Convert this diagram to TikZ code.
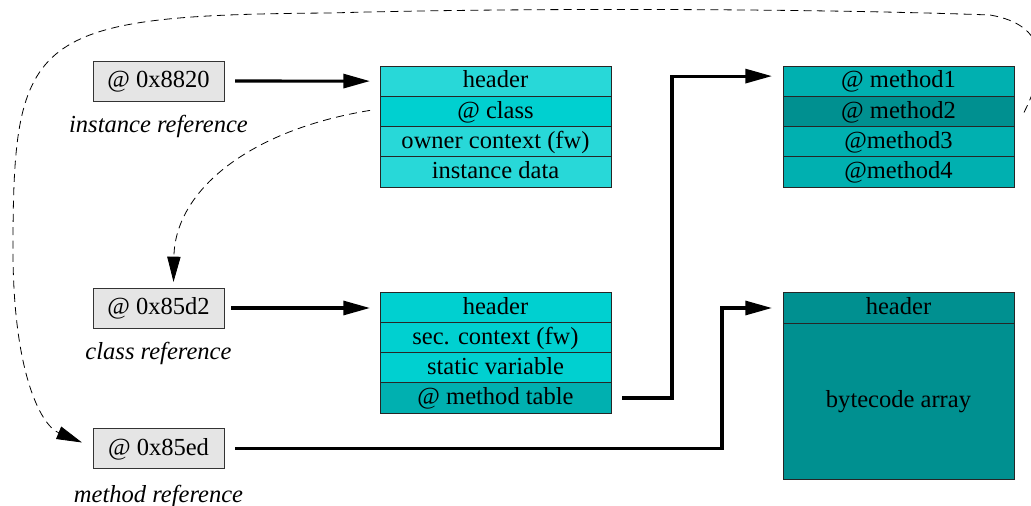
\documentclass[tikz,border=0pt]{standalone}
\usepackage{fontspec}
\setmainfont{Liberation Serif}
\newfontfamily\tnr{Liberation Serif}
\usetikzlibrary{arrows.meta,calc}
\definecolor{ltc}{RGB}{40,216,216}
\definecolor{cytwo}{RGB}{0,208,208}
\definecolor{cythree}{RGB}{0,176,176}
\definecolor{cyfour}{RGB}{0,144,144}
\definecolor{refgray}{RGB}{229,229,229}
\begin{document}
\begin{tikzpicture}[x=0.75pt,y=-0.75pt,
  font=\tnr\fontsize{18.4}{22}\selectfont,
  row/.style={draw=black!85, line width=0.7pt, minimum width=173.25pt, minimum height=22.69pt,
    inner sep=0pt, outer sep=0pt, text height=14pt, text depth=4pt},
  refbox/.style={draw=black!80, line width=0.7pt, fill=refgray, minimum width=98.25pt,
    minimum height=30pt, inner sep=0pt, outer sep=0pt, text height=14pt, text depth=4pt},
  lbl/.style={font=\tnr\fontsize{18.4}{22}\selectfont\itshape, inner sep=0pt},
  arr/.style={line width=2.3pt, -{Triangle[length=20pt,width=10.5pt]}},
  dsh/.style={line width=0.6pt, dash pattern=on 6pt off 4pt, -{Triangle[length=19pt,width=10pt]}}
]
\clip (0,0) rectangle (1031,506);
\fill[white] (0,0) rectangle (1031,506);

% reference boxes
\node[refbox] (r1) at (158.5,81) {@ 0x8820};
\node[lbl] (l1) at (158.5,126) {instance reference};
\node[refbox] (r2) at (158.5,308) {@ 0x85d2};
\node[lbl] (l2) at (158.5,353) {class reference};
\node[refbox] (r3) at (158.5,448.5) {@ 0x85ed};
\node[lbl] (l3) at (158.5,496) {method reference};

% instance object
\node[row, fill=ltc]   (i1) at (495.5,81.1)  {header};
\node[row, fill=cytwo] (i2) at (495.5,111.4) {@ class};
\node[row, fill=ltc]   (i3) at (495.5,141.6) {owner context (fw)};
\node[row, fill=ltc]   (i4) at (495.5,171.9) {instance data};

% class object
\node[row, fill=cytwo]   (c1) at (495.5,308) {header};
\node[row, fill=cytwo]   (c2) at (495.5,338) {sec. context (fw)};
\node[row, fill=cytwo]   (c3) at (495.5,368) {static variable};
\node[row, fill=cythree] (c4) at (495.5,398) {@ method table};

% method table
\node[row, fill=cythree] (m1) at (898.5,81.1)  {@ method1};
\node[row, fill=cyfour]  (m2) at (898.5,111.4) {@ method2};
\node[row, fill=cythree] (m3) at (898.5,141.6) {@method3};
\node[row, fill=cythree] (m4) at (898.5,171.9) {@method4};

% bytecode object
\node[row, fill=cyfour] (bh) at (898.5,308) {header};
\node[row, fill=cyfour, minimum height=117pt] (bb) at (898.5,401) {bytecode array};

% solid connectors
\draw[arr] ($(r1.east)+(11,0)$) -- ($(i1.west)+(-10,0)$);
\draw[arr] ($(r2.east)+(7,0)$) -- ($(c1.west)+(-10,0)$);
\draw[arr] ($(c4.east)+(11,0)$) -- ++(50,0) |- ($(m1.west)+(-11,-5)$);
\draw[arr] ($(r3.east)+(11,0)$) -- ++(487,0) |- ($(bh.west)+(-11,0)$);

% dashed connectors
\draw[dsh] ($(i2.west)+(-10,-1)$) .. controls (250,130) and (175,190) .. ($(r2.north)+(15,-6)$);
\coordinate (s2) at ($(m2.east)+(10,1)$);
\draw[dsh] (s2) .. controls (1048,65) and (1048,25) .. (990,15)
  .. controls (800,8) and (500,8) .. (330,13) .. controls (30,15) and (13,35) .. (13,250)
  .. controls (13,370) and (40,425) .. ($(r3.west)+(-11,-6)$);
\end{tikzpicture}
\end{document}
